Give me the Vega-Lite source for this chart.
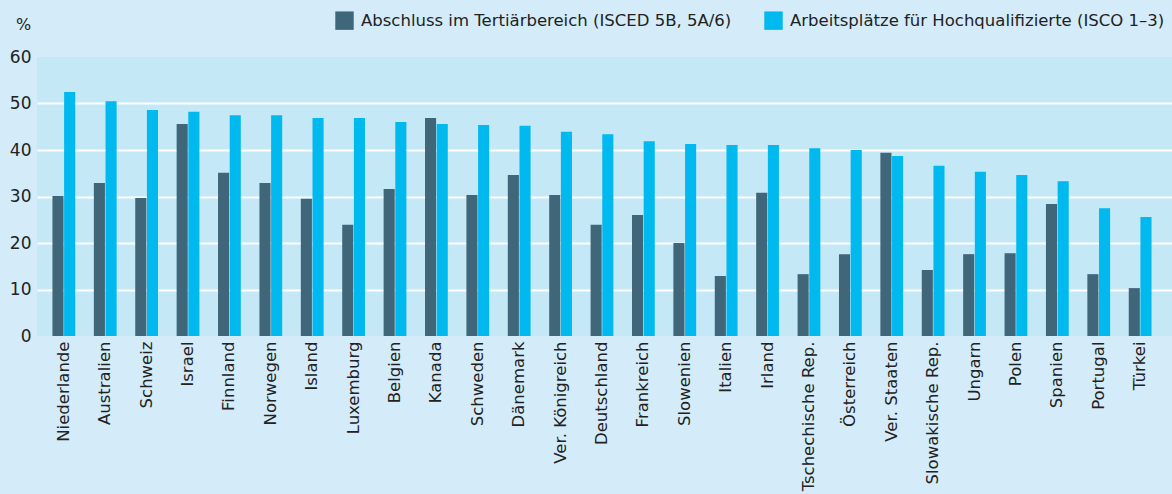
{
  "$schema": "https://vega.github.io/schema/vega-lite/v6.json",
  "width": 1135,
  "height": 279,
  "autosize": {"type": "none"},
  "padding": {"left": 37, "top": 57, "right": 0, "bottom": 158},
  "background": "#d4ecf9",
  "config": {
    "view": {"fill": "#c5e8f7", "stroke": null},
    "font": "DejaVu Sans"
  },
  "data": {
    "values": [
      {"land": "Niederlande", "serie": "Abschluss im Tertiärbereich (ISCED 5B, 5A/6)", "wert": 30.1},
      {"land": "Niederlande", "serie": "Arbeitsplätze für Hochqualifizierte (ISCO 1–3)", "wert": 52.5},
      {"land": "Australien", "serie": "Abschluss im Tertiärbereich (ISCED 5B, 5A/6)", "wert": 32.9},
      {"land": "Australien", "serie": "Arbeitsplätze für Hochqualifizierte (ISCO 1–3)", "wert": 50.5},
      {"land": "Schweiz", "serie": "Abschluss im Tertiärbereich (ISCED 5B, 5A/6)", "wert": 29.7},
      {"land": "Schweiz", "serie": "Arbeitsplätze für Hochqualifizierte (ISCO 1–3)", "wert": 48.6},
      {"land": "Israel", "serie": "Abschluss im Tertiärbereich (ISCED 5B, 5A/6)", "wert": 45.6},
      {"land": "Israel", "serie": "Arbeitsplätze für Hochqualifizierte (ISCO 1–3)", "wert": 48.2},
      {"land": "Finnland", "serie": "Abschluss im Tertiärbereich (ISCED 5B, 5A/6)", "wert": 35.1},
      {"land": "Finnland", "serie": "Arbeitsplätze für Hochqualifizierte (ISCO 1–3)", "wert": 47.5},
      {"land": "Norwegen", "serie": "Abschluss im Tertiärbereich (ISCED 5B, 5A/6)", "wert": 32.9},
      {"land": "Norwegen", "serie": "Arbeitsplätze für Hochqualifizierte (ISCO 1–3)", "wert": 47.5},
      {"land": "Island", "serie": "Abschluss im Tertiärbereich (ISCED 5B, 5A/6)", "wert": 29.5},
      {"land": "Island", "serie": "Arbeitsplätze für Hochqualifizierte (ISCO 1–3)", "wert": 46.9},
      {"land": "Luxemburg", "serie": "Abschluss im Tertiärbereich (ISCED 5B, 5A/6)", "wert": 23.9},
      {"land": "Luxemburg", "serie": "Arbeitsplätze für Hochqualifizierte (ISCO 1–3)", "wert": 46.9},
      {"land": "Belgien", "serie": "Abschluss im Tertiärbereich (ISCED 5B, 5A/6)", "wert": 31.6},
      {"land": "Belgien", "serie": "Arbeitsplätze für Hochqualifizierte (ISCO 1–3)", "wert": 46.0},
      {"land": "Kanada", "serie": "Abschluss im Tertiärbereich (ISCED 5B, 5A/6)", "wert": 46.9},
      {"land": "Kanada", "serie": "Arbeitsplätze für Hochqualifizierte (ISCO 1–3)", "wert": 45.6},
      {"land": "Schweden", "serie": "Abschluss im Tertiärbereich (ISCED 5B, 5A/6)", "wert": 30.3},
      {"land": "Schweden", "serie": "Arbeitsplätze für Hochqualifizierte (ISCO 1–3)", "wert": 45.4},
      {"land": "Dänemark", "serie": "Abschluss im Tertiärbereich (ISCED 5B, 5A/6)", "wert": 34.6},
      {"land": "Dänemark", "serie": "Arbeitsplätze für Hochqualifizierte (ISCO 1–3)", "wert": 45.2},
      {"land": "Ver. Königreich", "serie": "Abschluss im Tertiärbereich (ISCED 5B, 5A/6)", "wert": 30.3},
      {"land": "Ver. Königreich", "serie": "Arbeitsplätze für Hochqualifizierte (ISCO 1–3)", "wert": 43.9},
      {"land": "Deutschland", "serie": "Abschluss im Tertiärbereich (ISCED 5B, 5A/6)", "wert": 23.9},
      {"land": "Deutschland", "serie": "Arbeitsplätze für Hochqualifizierte (ISCO 1–3)", "wert": 43.4},
      {"land": "Frankreich", "serie": "Abschluss im Tertiärbereich (ISCED 5B, 5A/6)", "wert": 26.0},
      {"land": "Frankreich", "serie": "Arbeitsplätze für Hochqualifizierte (ISCO 1–3)", "wert": 41.9},
      {"land": "Slowenien", "serie": "Abschluss im Tertiärbereich (ISCED 5B, 5A/6)", "wert": 20.0},
      {"land": "Slowenien", "serie": "Arbeitsplätze für Hochqualifizierte (ISCO 1–3)", "wert": 41.3},
      {"land": "Italien", "serie": "Abschluss im Tertiärbereich (ISCED 5B, 5A/6)", "wert": 12.9},
      {"land": "Italien", "serie": "Arbeitsplätze für Hochqualifizierte (ISCO 1–3)", "wert": 41.1},
      {"land": "Irland", "serie": "Abschluss im Tertiärbereich (ISCED 5B, 5A/6)", "wert": 30.8},
      {"land": "Irland", "serie": "Arbeitsplätze für Hochqualifizierte (ISCO 1–3)", "wert": 41.1},
      {"land": "Tschechische Rep.", "serie": "Abschluss im Tertiärbereich (ISCED 5B, 5A/6)", "wert": 13.3},
      {"land": "Tschechische Rep.", "serie": "Arbeitsplätze für Hochqualifizierte (ISCO 1–3)", "wert": 40.4},
      {"land": "Österreich", "serie": "Abschluss im Tertiärbereich (ISCED 5B, 5A/6)", "wert": 17.6},
      {"land": "Österreich", "serie": "Arbeitsplätze für Hochqualifizierte (ISCO 1–3)", "wert": 40.0},
      {"land": "Ver. Staaten", "serie": "Abschluss im Tertiärbereich (ISCED 5B, 5A/6)", "wert": 39.4},
      {"land": "Ver. Staaten", "serie": "Arbeitsplätze für Hochqualifizierte (ISCO 1–3)", "wert": 38.7},
      {"land": "Slowakische Rep.", "serie": "Abschluss im Tertiärbereich (ISCED 5B, 5A/6)", "wert": 14.2},
      {"land": "Slowakische Rep.", "serie": "Arbeitsplätze für Hochqualifizierte (ISCO 1–3)", "wert": 36.6},
      {"land": "Ungarn", "serie": "Abschluss im Tertiärbereich (ISCED 5B, 5A/6)", "wert": 17.6},
      {"land": "Ungarn", "serie": "Arbeitsplätze für Hochqualifizierte (ISCO 1–3)", "wert": 35.3},
      {"land": "Polen", "serie": "Abschluss im Tertiärbereich (ISCED 5B, 5A/6)", "wert": 17.8},
      {"land": "Polen", "serie": "Arbeitsplätze für Hochqualifizierte (ISCO 1–3)", "wert": 34.6},
      {"land": "Spanien", "serie": "Abschluss im Tertiärbereich (ISCED 5B, 5A/6)", "wert": 28.4},
      {"land": "Spanien", "serie": "Arbeitsplätze für Hochqualifizierte (ISCO 1–3)", "wert": 33.3},
      {"land": "Portugal", "serie": "Abschluss im Tertiärbereich (ISCED 5B, 5A/6)", "wert": 13.3},
      {"land": "Portugal", "serie": "Arbeitsplätze für Hochqualifizierte (ISCO 1–3)", "wert": 27.5},
      {"land": "Türkei", "serie": "Abschluss im Tertiärbereich (ISCED 5B, 5A/6)", "wert": 10.3},
      {"land": "Türkei", "serie": "Arbeitsplätze für Hochqualifizierte (ISCO 1–3)", "wert": 25.6}
    ]
  },
  "mark": {"type": "bar"},
  "encoding": {
    "x": {
      "field": "land",
      "type": "nominal",
      "sort": null,
      "scale": {"paddingInner": 0.45, "paddingOuter": 0.434, "align": 0.43},
      "axis": {
        "title": null,
        "labelAngle": -90,
        "labelFont": "DejaVu Sans",
        "labelFontSize": 16.5,
        "labelColor": "#222222",
        "labelPadding": 5,
        "ticks": false,
        "domain": false,
        "grid": false
      }
    },
    "xOffset": {
      "field": "serie",
      "type": "nominal",
      "scale": {"paddingInner": 0.05}
    },
    "y": {
      "field": "wert",
      "type": "quantitative",
      "scale": {"domain": [0, 60], "nice": false},
      "axis": {
        "title": "%",
        "titleAngle": 0,
        "titleX": -14,
        "titleY": -33,
        "titleAlign": "center",
        "titleBaseline": "middle",
        "titleFont": "DejaVu Sans",
        "titleFontSize": 16,
        "titleFontWeight": "normal",
        "titleColor": "#222222",
        "values": [0, 10, 20, 30, 40, 50, 60],
        "labelFont": "DejaVu Sans",
        "labelFontSize": 17,
        "labelColor": "#222222",
        "labelPadding": 6,
        "ticks": false,
        "domain": false,
        "grid": true,
        "gridColor": "#ffffff",
        "gridWidth": 2,
        "gridOpacity": {"condition": {"test": "datum.value == 0 || datum.value == 60", "value": 0}, "value": 1}
      }
    },
    "color": {
      "field": "serie",
      "type": "nominal",
      "scale": {
        "domain": ["Abschluss im Tertiärbereich (ISCED 5B, 5A/6)", "Arbeitsplätze für Hochqualifizierte (ISCO 1–3)"],
        "range": ["#3f6679", "#00b9ef"]
      },
      "legend": {
        "title": null,
        "orient": "none",
        "legendX": 298,
        "legendY": -46,
        "direction": "horizontal",
        "symbolType": "square",
        "symbolSize": 340,
        "symbolStrokeWidth": 0,
        "symbolOpacity": 1,
        "labelFont": "DejaVu Sans",
        "labelFontSize": 16.5,
        "labelColor": "#222222",
        "labelLimit": 500,
        "columnPadding": 32,
        "labelOffset": 7
      }
    }
  }
}
